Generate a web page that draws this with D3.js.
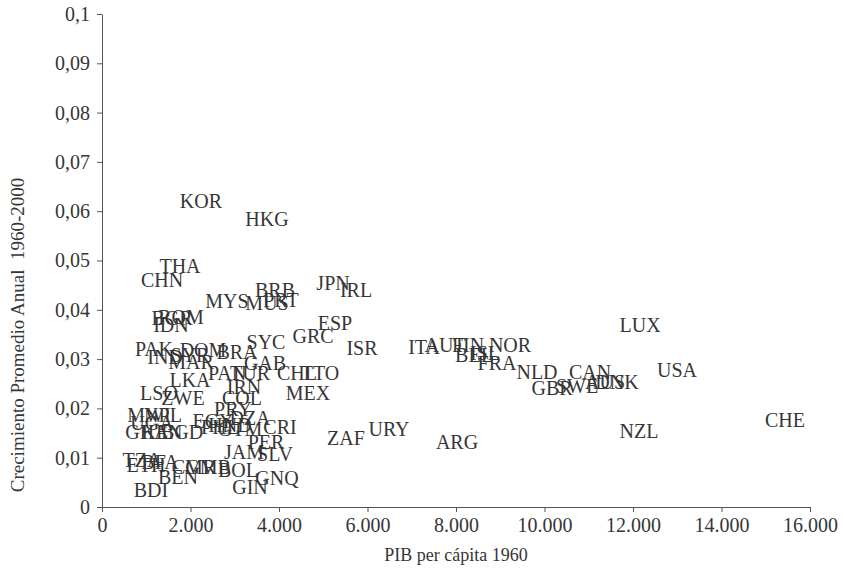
<!DOCTYPE html>
<html>
<head>
<meta charset="utf-8">
<script src="https://cdn.jsdelivr.net/npm/d3@7"></script>
<style>
  body { margin: 0; background: #fff; }
  svg text { font-family: "Liberation Serif", "Times New Roman", serif; fill: #363636; }
</style>
</head>
<body>
<div id="chart"></div>
<script>
// country codes, PIB per cápita 1960 and growth 1960-2000
const codes = ["KOR","HKG","THA","CHN","MYS","BRB","MUS","PRT","JPN","IRL",
  "ROM","BGR","IDN","ESP","GRC","SYC","ISR","PAK","DOM","BRA",
  "IND","SYR","MAR","GAB","PAN","TUR","CHL","TTO","LKA","IRN",
  "MEX","LSO","ZWE","COL","PRY","DZA","CRI","MWI","NPL","UGA",
  "GHA","KEN","BGD","EGY","PHL","HND","GTM","PER","JAM","SLV",
  "TZA","ETH","BFA","CMR","GMB","BOL","BEN","GIN","GNQ","BDI",
  "ZAF","URY","ARG","ITA","AUT","FIN","BEL","ISL","NOR","FRA",
  "NLD","CAN","GBR","SWE","AUS","DNK","LUX","USA","NZL","CHE"];
const pib1960 = [2237,3729,1763,1356,2825,3910,3729,4045,5221,5740,
  1785,1582,1559,5266,4769,3706,5876,1175,2283,3051,
  1424,1989,2011,3684,2825,3345,4407,4927,1989,3209,
  4656,1288,1831,3164,2961,3345,4023,1062,1379,1130,
  1017,1356,1808,2509,2667,2893,3119,3706,3209,3910,
  904,994,1311,2079,2396,3074,1718,3345,3955,1107,
  5514,6486,8023,7277,7752,8272,8407,8656,9221,8927,
  9831,11029,10170,10735,11368,11639,12159,12995,12136,15436];
const crecimiento = [0.0621,0.0584,0.0489,0.0460,0.0418,0.0440,0.0414,0.0420,0.0454,0.0440,
  0.0385,0.0383,0.0369,0.0373,0.0347,0.0335,0.0323,0.0320,0.0318,0.0314,
  0.0304,0.0308,0.0294,0.0292,0.0272,0.0272,0.0272,0.0272,0.0258,0.0243,
  0.0231,0.0231,0.0221,0.0221,0.0199,0.0181,0.0162,0.0187,0.0187,0.0170,
  0.0152,0.0152,0.0152,0.0174,0.0162,0.0166,0.0158,0.0132,0.0112,0.0108,
  0.0095,0.0085,0.0091,0.0081,0.0081,0.0075,0.0061,0.0041,0.0059,0.0034,
  0.0140,0.0158,0.0132,0.0325,0.0329,0.0329,0.0308,0.0312,0.0329,0.0292,
  0.0274,0.0274,0.0241,0.0245,0.0254,0.0254,0.0369,0.0278,0.0154,0.0176];
const xTicks = [0,2000,4000,6000,8000,10000,12000,14000,16000];
const yTicks = [0,0.01,0.02,0.03,0.04,0.05,0.06,0.07,0.08,0.09,0.1];

const W = 845, H = 574;
const margin = {left: 102, right: 35, top: 14, bottom: 67};

const svg = d3.select('#chart').append('svg').attr('width', W).attr('height', H);

const x = d3.scaleLinear().domain([0, 16000]).range([margin.left, W - margin.right]);
const y = d3.scaleLinear().domain([0, 0.1]).range([H - margin.bottom, margin.top]);

const fmtX = d => d === 0 ? '0' : d3.format(',')(d).replace(/,/g, '.');
const fmtY = d => d === 0 ? '0' : String(+d.toFixed(2)).replace('.', ',');

const gx = svg.append('g').attr('transform', 'translate(0,' + y(0) + ')')
  .call(d3.axisBottom(x).tickValues(xTicks).tickFormat(fmtX).tickSize(5).tickSizeOuter(0));
const gy = svg.append('g').attr('transform', 'translate(' + x(0) + ',0)')
  .call(d3.axisLeft(y).tickValues(yTicks).tickFormat(fmtY).tickSize(5).tickSizeOuter(0));

[gx, gy].forEach(g => {
  g.attr('font-family', null).attr('font-size', null);
  g.selectAll('path, line').attr('stroke', '#555');
  g.selectAll('text').style('font-size', '20px').attr('fill', '#363636');
});
gx.selectAll('text').attr('dy', '0.85em');
gy.selectAll('text').attr('dx', '-0.2em');

svg.append('g').selectAll('text').data(codes).join('text')
  .attr('x', (d, i) => x(pib1960[i]))
  .attr('y', (d, i) => y(crecimiento[i]))
  .attr('dy', '0.35em')
  .attr('text-anchor', 'middle')
  .style('font-size', '20px')
  .text(d => d);

svg.append('text')
  .attr('x', (x(0) + x(16000)) / 2).attr('y', 561)
  .attr('text-anchor', 'middle').style('font-size', '18px')
  .text('PIB per cápita 1960');

svg.append('text')
  .attr('transform', 'translate(24,335) rotate(-90)')
  .attr('text-anchor', 'middle').style('font-size', '19px')
  .style('white-space', 'pre')
  .text('Crecimiento Promedio Anual  1960-2000');
</script>
</body>
</html>
